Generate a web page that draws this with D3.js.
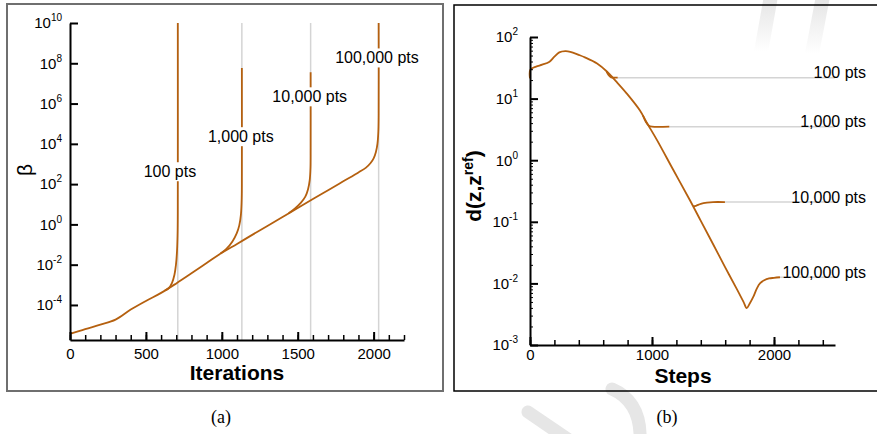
<!DOCTYPE html>
<meta charset="utf-8">
<script src="https://d3js.org/d3.v7.min.js"></script>
<style>
  body { margin: 0; background: #fff; }
  text { font-family: "Liberation Sans", Arial, sans-serif; }
</style>
<div id="chart"></div>
<script>

// ---- panel (a): beta vs iterations (values stored as log10 beta) ----
var iterTicks = [0, 500, 1000, 1500, 2000];
var betaExpTicks = [-4, -2, 0, 2, 4, 6, 8, 10];
var blowupIter = [710, 1132, 1585, 2033];

var mainIter = [0, 100, 200, 300, 400, 500, 600, 700, 800, 900, 1000, 1100, 1200, 1300, 1400, 1500, 1600, 1700, 1800, 1900, 1950, 1980, 2000, 2015, 2025, 2031, 2033, 2033];
var mainLogBeta = [-5.44, -5.2, -4.98, -4.73, -4.23, -3.8, -3.4, -2.93, -2.43, -1.92, -1.41, -0.97, -0.52, -0.08, 0.37, 0.81, 1.26, 1.7, 2.14, 2.58, 2.82, 3.05, 3.28, 3.6, 4.0, 4.6, 5.5, 10];

var b100Iter = [625, 650, 672, 688, 698, 705, 709, 710, 710];
var b100LogBeta = [-3.28, -3.17, -2.9, -2.5, -2.0, -1.3, -0.3, 1.5, 10];
var b1000Iter = [990, 1030, 1070, 1098, 1115, 1126, 1131, 1132, 1132];
var b1000LogBeta = [-1.46, -1.22, -0.85, -0.45, -0.05, 0.5, 1.3, 2.5, 7.77];
var b10000Iter = [1440, 1480, 1520, 1550, 1568, 1579, 1584, 1585, 1585];
var b10000LogBeta = [0.55, 0.78, 1.07, 1.38, 1.75, 2.2, 2.8, 3.8, 7.56];

var ptsLabels = ["100 pts", "1,000 pts", "10,000 pts", "100,000 pts"];
var labelIterA = [658, 1125, 1579, 2022];
var labelLogA = [2.62, 4.36, 6.34, 8.27];

// ---- panel (b): d(z,z_ref) vs steps (log10 d) ----
var stepTicks = [0, 1000, 2000];
var dExpTicks = [-3, -2, -1, 0, 1, 2];

var mainStep = [0, 3, 50, 100, 160, 200, 240, 290, 330, 400, 450, 550, 630, 710, 790, 900, 960, 1040, 1175, 1311, 1400, 1500, 1600, 1700, 1750, 1776, 1800, 1830, 1860, 1885, 1920, 1960, 2000, 2049];
var mainLogD = [1.33, 1.47, 1.52, 1.55, 1.6, 1.68, 1.75, 1.77, 1.76, 1.71, 1.67, 1.57, 1.44, 1.27, 1.09, 0.81, 0.6, 0.33, -0.16, -0.65, -0.985, -1.36, -1.74, -2.11, -2.3, -2.4, -2.33, -2.22, -2.08, -2.0, -1.95, -1.92, -1.91, -1.9];

var s100Step = [628, 645, 665, 690, 719];
var s100LogD = [1.44, 1.38, 1.345, 1.34, 1.34];
var s1000Step = [925, 950, 975, 1000, 1142];
var s1000LogD = [0.73, 0.62, 0.56, 0.545, 0.545];
var s10000Step = [1336, 1360, 1400, 1450, 1500, 1598];
var s10000LogD = [-0.75, -0.74, -0.71, -0.69, -0.68, -0.68];
var plateauLogD = [1.34, 0.545, -0.68, -1.9];
var plateauStart = [719, 1142, 1598, 2049];
var stepMax = 2500;

var orange = "#b5600f", grey = "#d4d4d4";

var svg = d3.select("#chart").append("svg")
  .attr("width", 877).attr("height", 434);

// faint watermark strokes behind everything
var grad = svg.append("defs").append("linearGradient")
  .attr("id", "fade").attr("x1", 0).attr("y1", 0).attr("x2", 0).attr("y2", 1);
grad.append("stop").attr("offset", 0).attr("stop-color", "#e4e4e4");
grad.append("stop").attr("offset", 1).attr("stop-color", "#ffffff");
var wm = svg.append("g").attr("fill", "none").attr("stroke-linecap", "round");
wm.append("path").attr("d", "M771,-4L761,52").attr("stroke", "url(#fade)").attr("stroke-width", 14);
wm.append("path").attr("d", "M823,-4L812,54").attr("stroke", "url(#fade)").attr("stroke-width", 14);
wm.append("path").attr("d", "M528,412L572,442").attr("stroke", "#e6e6e6").attr("stroke-width", 13);
wm.append("path").attr("d", "M612,389Q642,402 640,442").attr("stroke", "#e6e6e6").attr("stroke-width", 13);

// frames
svg.append("rect").attr("x", 7).attr("y", 4).attr("width", 436).attr("height", 387)
  .attr("fill", "none").attr("stroke", "#6f6f6f").attr("stroke-width", 2);
svg.append("rect").attr("x", 454).attr("y", 5).attr("width", 440).attr("height", 386)
  .attr("fill", "none").attr("stroke", "#000").attr("stroke-width", 1.5);

function styleAxis(g) {
  g.attr("font-family", "Liberation Sans, Arial, sans-serif").attr("font-size", 15);
  g.select(".domain").attr("stroke-width", 2);
  g.selectAll(".tick line").attr("stroke-width", 2);
  g.selectAll(".tick text").attr("fill", "#000");
}
function powLabels(g) {
  g.selectAll(".tick text").each(function(d) {
    var t = d3.select(this);
    t.text(null);
    t.append("tspan").text("10");
    t.append("tspan").attr("dy", -7).attr("font-size", 10).text(Math.round(Math.log10(d)));
  });
}
function pairs(xs, ys) { return xs.map(function(x, i) { return [x, Math.pow(10, ys[i])]; }); }

// ================= panel (a) =================
var xa = d3.scaleLinear().domain([0, 2200]).range([70, 404]);
var ya = d3.scaleLog().domain([Math.pow(10, -5.74), 1e10]).range([340, 23]);
var pa = svg.append("g");

pa.selectAll("line.blow").data(blowupIter).enter().append("line")
  .attr("x1", function(d) { return xa(d); }).attr("x2", function(d) { return xa(d); })
  .attr("y1", ya.range()[0]).attr("y2", ya(1e10))
  .attr("stroke", grey).attr("stroke-width", 1.5);

var lineA = d3.line().x(function(d) { return xa(d[0]); }).y(function(d) { return ya(d[1]); })
  .curve(d3.curveCatmullRom.alpha(0.5));
[pairs(mainIter, mainLogBeta), pairs(b100Iter, b100LogBeta), pairs(b1000Iter, b1000LogBeta), pairs(b10000Iter, b10000LogBeta)]
  .forEach(function(s) {
    pa.append("path").attr("d", lineA(s)).attr("fill", "none")
      .attr("stroke", orange).attr("stroke-width", 1.8);
  });

// labels with white boxes
ptsLabels.forEach(function(lab, i) {
  var g = pa.append("g").attr("transform", "translate(" + xa(labelIterA[i]) + "," + ya(Math.pow(10, labelLogA[i])) + ")");
  var r = g.append("rect").attr("fill", "#fff");
  var t = g.append("text").attr("text-anchor", "middle").attr("dy", "0.35em")
    .attr("font-size", 16).text(lab);
  var b = t.node().getBBox();
  r.attr("x", b.x - 2).attr("y", b.y - 1).attr("width", b.width + 4).attr("height", b.height + 2);
});

var axA = pa.append("g").attr("transform", "translate(0,340)")
  .call(d3.axisBottom(xa).tickValues(iterTicks).tickSizeInner(-8).tickSizeOuter(0).tickPadding(8).tickFormat(d3.format("d")));
styleAxis(axA);
var axAm = pa.append("g").attr("transform", "translate(0,340)")
  .call(d3.axisBottom(xa).tickValues(d3.range(0, 2201, 100)).tickSizeInner(-5).tickSizeOuter(0).tickFormat(""));
axAm.select(".domain").remove();
axAm.selectAll(".tick line").attr("stroke-width", 1.5);

var ayA = pa.append("g").attr("transform", "translate(70,0)")
  .call(d3.axisLeft(ya).tickValues(betaExpTicks.map(function(e) { return Math.pow(10, e); }))
    .tickSizeInner(-8).tickSizeOuter(0).tickPadding(8));
styleAxis(ayA);
powLabels(ayA);

pa.append("text").attr("x", 237).attr("y", 380).attr("text-anchor", "middle")
  .attr("font-size", 21).attr("font-weight", "bold").text("Iterations");
pa.append("text").attr("transform", "translate(32,170) rotate(-90)").attr("text-anchor", "middle")
  .attr("font-size", 21).text("β");
svg.append("text").attr("x", 221).attr("y", 423).attr("text-anchor", "middle")
  .style("font-family", "Liberation Serif, serif")
  .attr("font-size", 18).text("(a)");

// ================= panel (b) =================
var xb = d3.scaleLinear().domain([0, stepMax]).range([530, 835]);
var yb = d3.scaleLog().domain([1e-3, 1e2]).range([345, 37]);
var pb = svg.append("g");

pb.selectAll("line.plateau").data(plateauLogD).enter().append("line")
  .attr("x1", function(d, i) { return xb(plateauStart[i]); }).attr("x2", xb(stepMax))
  .attr("y1", function(d) { return yb(Math.pow(10, d)); }).attr("y2", function(d) { return yb(Math.pow(10, d)); })
  .attr("stroke", grey).attr("stroke-width", 1.5);

var lineB = d3.line().x(function(d) { return xb(d[0]); }).y(function(d) { return yb(d[1]); })
  .curve(d3.curveCatmullRom.alpha(0.5));
[pairs(mainStep, mainLogD), pairs(s100Step, s100LogD), pairs(s1000Step, s1000LogD), pairs(s10000Step, s10000LogD)]
  .forEach(function(s) {
    pb.append("path").attr("d", lineB(s)).attr("fill", "none")
      .attr("stroke", orange).attr("stroke-width", 1.8);
  });

pb.selectAll("text.pts").data(ptsLabels).enter().append("text")
  .attr("x", 866).attr("y", function(d, i) { return yb(Math.pow(10, plateauLogD[i])) + 0.5; })
  .attr("text-anchor", "end").attr("font-size", 16).text(function(d) { return d; });

var axB = pb.append("g").attr("transform", "translate(0,345)")
  .call(d3.axisBottom(xb).tickValues(stepTicks).tickSizeInner(-8).tickSizeOuter(0).tickPadding(4.5).tickFormat(d3.format("d")));
styleAxis(axB);
var axBm = pb.append("g").attr("transform", "translate(0,345)")
  .call(d3.axisBottom(xb).tickValues(d3.range(0, 2401, 200)).tickSizeInner(-5).tickSizeOuter(0).tickFormat(""));
axBm.select(".domain").remove();
axBm.selectAll(".tick line").attr("stroke-width", 1.5);

var ayB = pb.append("g").attr("transform", "translate(530,0)")
  .call(d3.axisLeft(yb).tickValues(dExpTicks.map(function(e) { return Math.pow(10, e); }))
    .tickSizeInner(-8).tickSizeOuter(0).tickPadding(12));
styleAxis(ayB);
powLabels(ayB);
var minorB = [];
dExpTicks.slice(0, -1).forEach(function(e) { for (var k = 2; k < 10; k++) minorB.push(k * Math.pow(10, e)); });
var ayBm = pb.append("g").attr("transform", "translate(530,0)")
  .call(d3.axisLeft(yb).tickValues(minorB).tickSizeInner(-3).tickSizeOuter(0).tickFormat(""));
ayBm.select(".domain").remove();
ayBm.selectAll(".tick line").attr("stroke-width", 1);

pb.append("text").attr("x", 683).attr("y", 383).attr("text-anchor", "middle")
  .attr("font-size", 21).attr("font-weight", "bold").text("Steps");
var yt = pb.append("text").attr("transform", "translate(481,186) rotate(-90)").attr("text-anchor", "middle")
  .attr("font-size", 21).attr("font-weight", "bold");
yt.append("tspan").text("d(z,z");
yt.append("tspan").attr("dy", -8).attr("font-size", 14).text("ref");
yt.append("tspan").attr("dy", 8).text(")");
svg.append("text").attr("x", 667).attr("y", 423).attr("text-anchor", "middle")
  .style("font-family", "Liberation Serif, serif")
  .attr("font-size", 18).text("(b)");

</script>
